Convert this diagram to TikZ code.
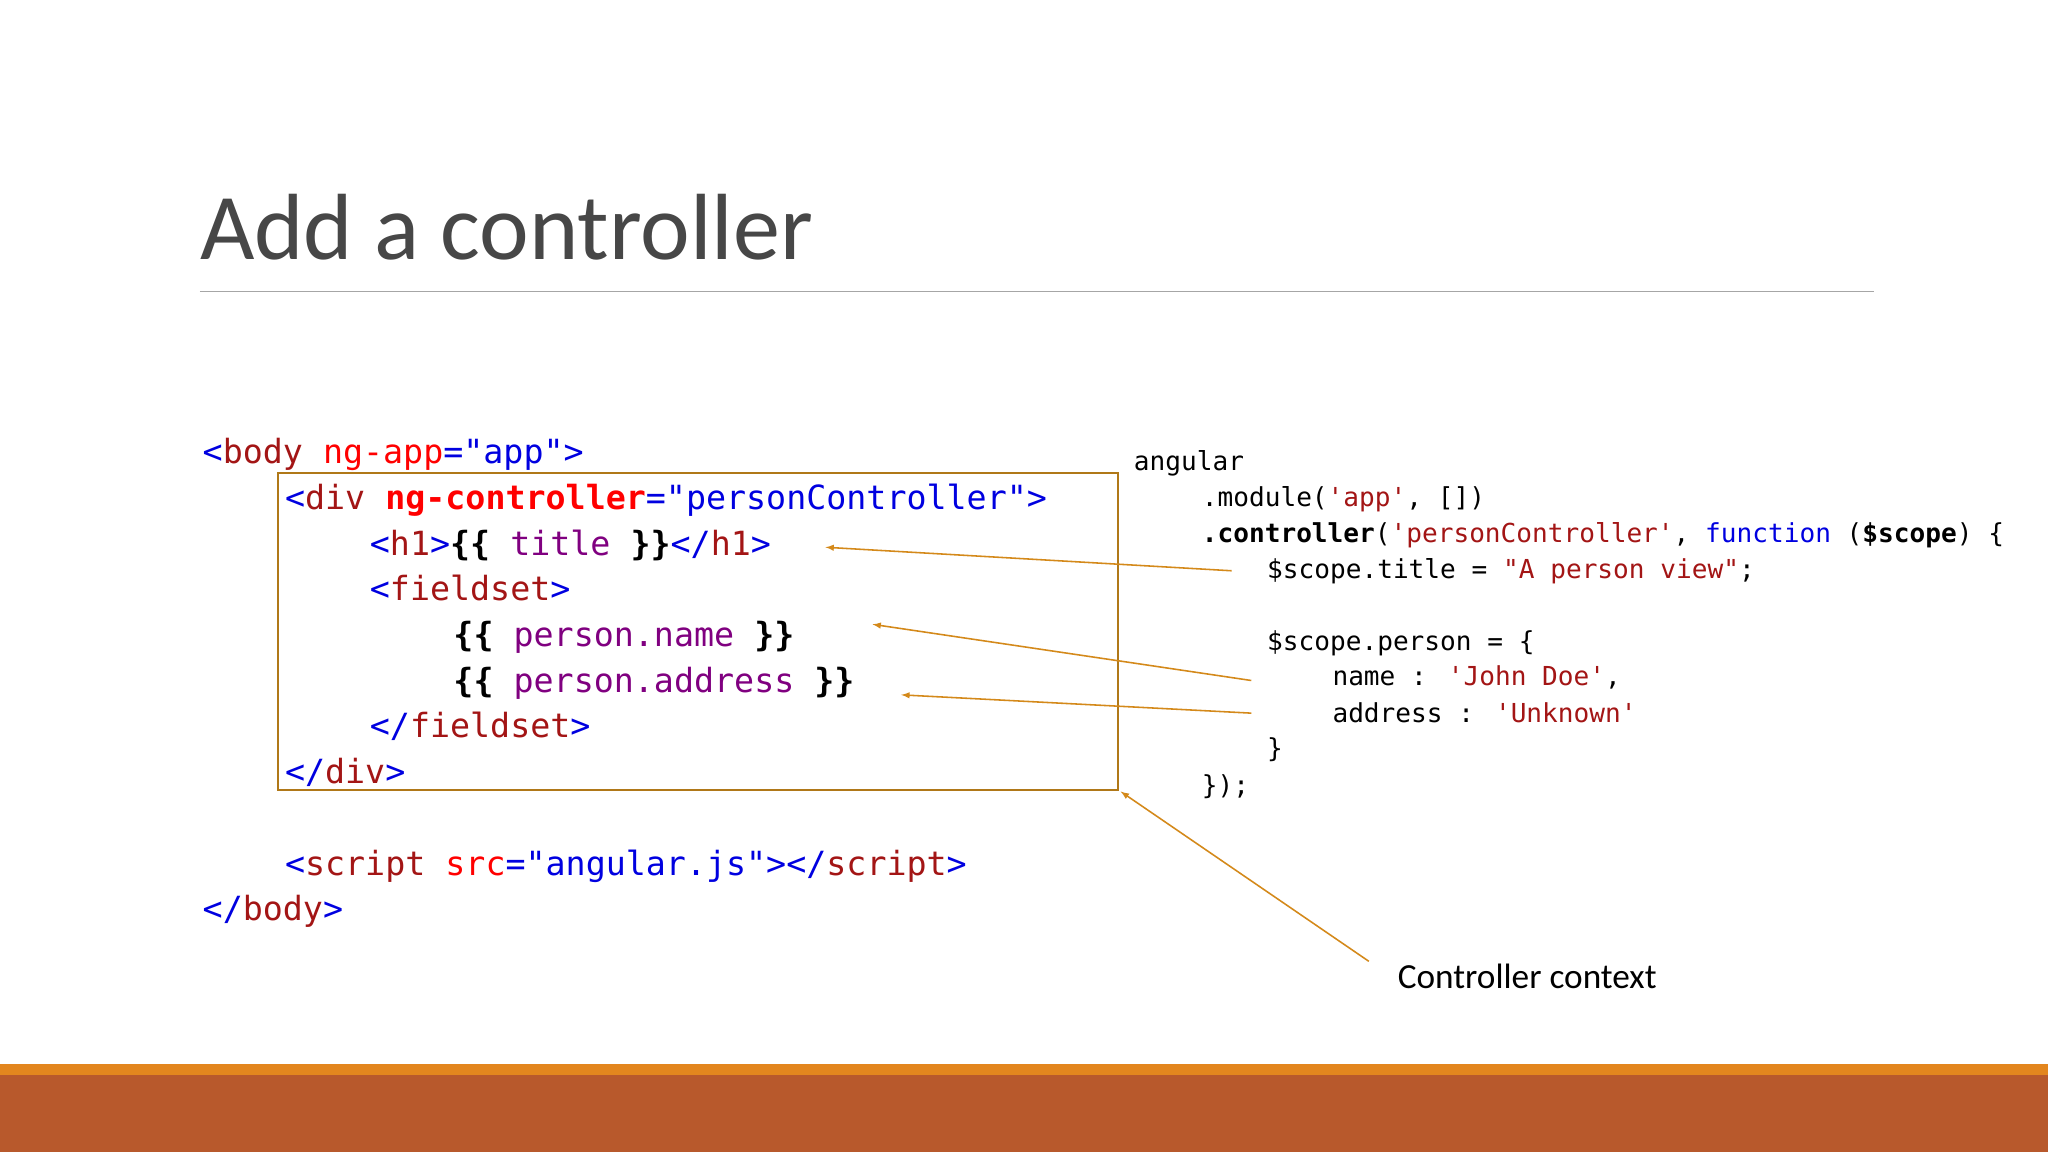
\documentclass[tikz,border=0pt]{standalone}
\usepackage{fontspec}
\setmainfont{Carlito}
\newfontfamily\cmono{DejaVu Sans Mono}
\definecolor{tagblue}{HTML}{0000E0}
\definecolor{tagred}{HTML}{A31515}
\definecolor{attred}{HTML}{FF0000}
\definecolor{varpur}{HTML}{800080}
\definecolor{boxc}{HTML}{B07818}
\definecolor{arrc}{HTML}{D4891A}
\definecolor{band}{HTML}{E3861E}
\definecolor{foot}{HTML}{B8592C}
\newcommand\tb[1]{\textcolor{tagblue}{#1}}
\newcommand\tr[1]{\textcolor{tagred}{#1}}
\newcommand\ar[1]{\textcolor{attred}{#1}}
\newcommand\vp[1]{\textcolor{varpur}{#1}}
\tikzset{
 lc/.style={anchor=base west,inner sep=0pt,font=\cmono\fontsize{25.5}{30}\selectfont},
 rc/.style={anchor=base west,inner sep=0pt,font=\cmono\fontsize{20}{24}\selectfont},
 ptr/.style={draw=arrc,line width=1.2pt,-latex},
}
\begin{document}
\begin{tikzpicture}[x=1pt,y=-1pt]
\useasboundingbox (0,0) rectangle (1568,882);
\fill[white] (0,0) rectangle (1568,882);
\fill[band] (0,815) rectangle (1568,823);
\fill[foot] (0,823) rectangle (1568,882);
\node[anchor=base west,inner sep=0pt,text=black!72,font=\fontsize{72}{80}\selectfont] (title) at (153,199) {Add a controller};
\draw[black!35,line width=1pt] (153,223) -- (1435,223);
% left code
\node[lc] (l1) at (155,355) {\tb{<}\tr{body} \ar{ng-app}\tb{="app">}};
\node[lc] (l2) at (218,390) {\tb{<}\tr{div} \textcolor{attred}{\bfseries ng-controller}\tb{="personController">}};
\node[lc] (l3) at (283,425) {\tb{<}\tr{h1}\tb{>}\textbf{\{\{} \vp{title} \textbf{\}\}}\tb{</}\tr{h1}\tb{>}};
\node[lc] (l4) at (283,460) {\tb{<}\tr{fieldset}\tb{>}};
\node[lc] (l5) at (347,495) {\textbf{\{\{} \vp{person.name} \textbf{\}\}}};
\node[lc] (l6) at (347,530) {\textbf{\{\{} \vp{person.address} \textbf{\}\}}};
\node[lc] (l7) at (283,565) {\tb{</}\tr{fieldset}\tb{>}};
\node[lc] (l8) at (218,600) {\tb{</}\tr{div}\tb{>}};
\node[lc] (l9) at (218,670) {\tb{<}\tr{script} \ar{src}\tb{="angular.js"></}\tr{script}\tb{>}};
\node[lc] (l10) at (155,705) {\tb{</}\tr{body}\tb{>}};
\draw[boxc,line width=1.5pt] (213,362) rectangle (856,605);
\coordinate (boxc) at (858,606);
% right code
\node[rc] (r1) at (868,360) {angular};
\node[rc] (r2) at (920,388) {.module(\tr{'app'}, [])};
\node[rc] (r3) at (920,415) {\textbf{.controller}(\tr{'personController'}, \tb{function} (\textbf{\$scope}) \{};
\node[rc] (r4) at (970,443) {\$scope.title = \tr{"A person view"};};
\node[rc] (r5) at (970,498) {\$scope.person = \{};
\node[rc] (r6) at (1020,525) {name : \tr{'John Doe'},};
\node[rc] (r7) at (1020,553) {address : \tr{'Unknown'}};
\node[rc] (r8) at (970,580) {\}};
\node[rc] (r9) at (920,608) {\});};
\node[anchor=base west,inner sep=0pt,font=\fontsize{27}{32}\selectfont] (ctx) at (1070,757) {Controller context};
% pointers
\coordinate (a1s) at (943,437); \coordinate (a1e) at (632,419);
\coordinate (a2s) at (958,521); \coordinate (a2e) at (668,478);
\coordinate (a3s) at (958,546); \coordinate (a3e) at (690,532);
\coordinate (a4s) at (1048,736);
\draw[ptr] (a1s) -- (a1e);
\draw[ptr] (a2s) -- (a2e);
\draw[ptr] (a3s) -- (a3e);
\draw[ptr] (a4s) -- (boxc);
\end{tikzpicture}
\end{document}
